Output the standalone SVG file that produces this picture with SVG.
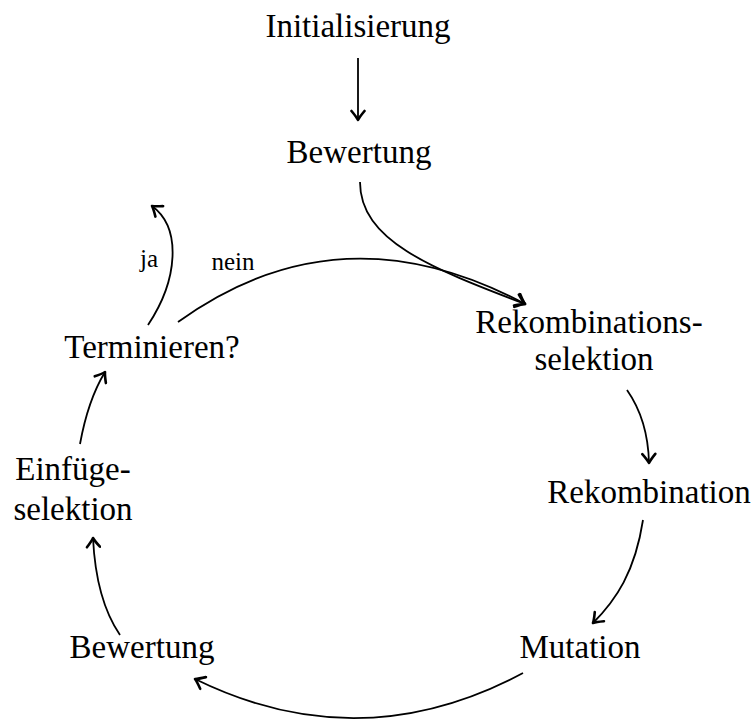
<svg xmlns="http://www.w3.org/2000/svg" width="755" height="720" viewBox="0 0 755 720">
  <style>
    .lbl { font-family: "Liberation Serif", "Times New Roman", serif; font-size: 33px; fill: #000; text-anchor: middle; }
    .small { font-family: "Liberation Serif", "Times New Roman", serif; font-size: 25px; fill: #000; text-anchor: middle; }
    .edge { fill: none; stroke: #000; stroke-width: 1.8; marker-end: url(#head); }
  </style>
  <defs>
    <marker id="head" viewBox="-12 -8 14 16" markerWidth="14" markerHeight="16" refX="0" refY="0" orient="auto" markerUnits="userSpaceOnUse">
      <path d="M-9,-6.5 Q-3,-1.5 0,0 Q-3,1.5 -9,6.5" fill="none" stroke="#000" stroke-width="2.6" stroke-linecap="round" stroke-linejoin="round"/>
    </marker>
  </defs>

  <rect width="755" height="720" fill="#fff"/>

  <g id="connectors">
    <path class="edge" d="M358,58 L358,120"/>
    <path class="edge" d="M360,182 C360,240 430,268 525,304"/>
    <path class="edge" d="M178,322 Q340,205 525,304"/>
    <path class="edge" d="M148,325 C178,280 182,228 152,206"/>
    <path class="edge" d="M627,390 Q648,420 649,463"/>
    <path class="edge" d="M643,520 C635,572 616,600 593,623"/>
    <path class="edge" d="M523,673 Q360,760 195,679"/>
    <path class="edge" d="M120,635 Q96,600 93,538"/>
    <path class="edge" d="M80,444 Q88,400 105,372"/>
    <text class="small" x="149" y="267">ja</text>
    <text class="small" x="233" y="270">nein</text>
  </g>

  <g id="init"><text class="lbl" x="358" y="37">Initialisierung</text></g>
  <g id="eval-top"><text class="lbl" x="359" y="163">Bewertung</text></g>
  <g id="rek-sel">
    <text class="lbl" x="589" y="333">Rekombinations-</text>
    <text class="lbl" x="594" y="370">selektion</text>
  </g>
  <g id="rek"><text class="lbl" x="649" y="503">Rekombination</text></g>
  <g id="mut"><text class="lbl" x="580" y="658">Mutation</text></g>
  <g id="eval-bottom"><text class="lbl" x="142" y="658">Bewertung</text></g>
  <g id="einf">
    <text class="lbl" x="73" y="480">Einfüge-</text>
    <text class="lbl" x="73" y="520">selektion</text>
  </g>
  <g id="term"><text class="lbl" x="152" y="358">Terminieren?</text></g>
</svg>
